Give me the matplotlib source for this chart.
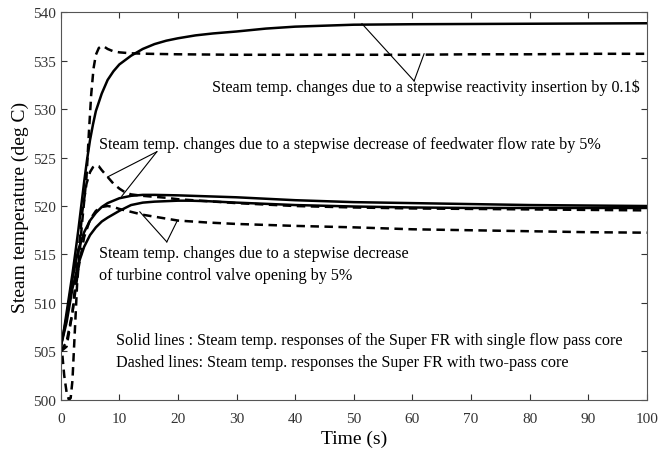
import numpy as np
import matplotlib.pyplot as plt

plt.rcParams['font.family'] = ['Liberation Serif', 'DejaVu Serif']

# Reactivity insertion 0.1$
t_rx_solid = [0, 0.5, 1, 1.5, 2, 2.5, 3, 3.5, 4, 4.5, 5, 5.5, 6, 7, 8, 9, 10, 12, 14, 16, 18, 20, 23, 26, 30, 35, 40,
              50, 60, 80, 100]
y_rx_solid = [505.5, 507, 509, 511, 513, 515.2, 517.5, 520, 522.5, 524.8, 526.8, 528.4, 529.8, 531.6, 533.0, 533.9,
              534.6, 535.5, 536.2, 536.7, 537.05, 537.3, 537.6, 537.8, 538.0, 538.3, 538.5, 538.7, 538.75, 538.8, 538.85]
t_rx_dash = [0, 0.3, 0.6, 1.0, 1.4, 1.7, 2.0, 2.4, 2.8, 3.2, 3.6, 4.0, 4.4, 4.8, 5.2, 5.6, 6.0, 6.5, 7.0, 7.5, 8, 9,
             10, 11, 12, 15, 20, 30, 40, 50, 60, 70, 80, 90, 100]
y_rx_dash = [506, 504.5, 502.5, 500.8, 500, 500.2, 502, 507, 512, 515, 518, 520.5, 523, 527.5, 531.5, 534.2, 535.6,
             536.3, 536.5, 536.4, 536.2, 535.95, 535.85, 535.8, 535.75, 535.7, 535.65, 535.6, 535.6, 535.6, 535.6,
             535.65, 535.65, 535.7, 535.7]

# Feedwater flow rate -5%
t_fw_solid = [0, 1, 2, 3, 4, 5, 6, 7, 8, 10, 12, 14, 16, 20, 25, 30, 40, 50, 60, 70, 80, 90, 100]
y_fw_solid = [505.5, 508.5, 512.5, 515.5, 517.3, 518.5, 519.3, 519.9, 520.3, 520.8, 521.05, 521.15, 521.15, 521.1,
              521.0, 520.9, 520.6, 520.4, 520.3, 520.2, 520.1, 520.05, 520.0]
t_fw_dash = [0, 1, 2, 3, 3.7, 4.4, 5, 5.5, 6, 6.5, 7, 8, 9, 10, 11, 12, 14, 16, 18, 20, 25, 30, 40, 50, 60, 70, 80,
             90, 100]
y_fw_dash = [505, 505.5, 509, 515, 519.5, 522.3, 523.5, 524.0, 524.2, 524.1, 523.7, 523.0, 522.3, 521.8, 521.4, 521.2,
             521.05, 520.95, 520.85, 520.7, 520.5, 520.3, 520.0, 519.85, 519.75, 519.7, 519.65, 519.6, 519.55]

# Turbine control valve opening -5%
t_tb_solid = [0, 1, 2, 3, 4, 5, 6, 7, 8, 10, 12, 14, 16, 18, 20, 22, 25, 30, 40, 50, 60, 70, 80, 90, 100]
y_tb_solid = [505.5, 508, 511.5, 514, 515.8, 517.0, 517.8, 518.4, 518.8, 519.5, 520.1, 520.35, 520.45, 520.5, 520.55,
              520.55, 520.5, 520.35, 520.1, 519.95, 519.85, 519.8, 519.8, 519.8, 519.8]
t_tb_dash = [0, 1, 2, 3, 4, 5, 6, 7, 8, 9, 10, 12, 14, 16, 18, 20, 25, 30, 40, 50, 60, 70, 80, 90, 100]
y_tb_dash = [505, 506, 509, 513.5, 516.8, 518.6, 519.5, 519.9, 520.0, 519.9, 519.7, 519.4, 519.1, 518.9, 518.7, 518.5,
             518.3, 518.15, 517.95, 517.8, 517.6, 517.5, 517.4, 517.3, 517.25]

x_ticks = list(range(0, 101, 10))
y_ticks = list(range(500, 541, 5))

fig = plt.figure(figsize=(6.6, 4.52), dpi=100)
ax = fig.add_axes([0.092, 0.113, 0.888, 0.858])

dash = (3.4, 2.2)
lw = 1.8
ax.plot(t_rx_solid, y_rx_solid, 'k-', lw=lw)
ax.plot(t_rx_dash, y_rx_dash, 'k--', lw=lw, dashes=dash)
ax.plot(t_fw_solid, y_fw_solid, 'k-', lw=lw)
ax.plot(t_fw_dash, y_fw_dash, 'k--', lw=lw, dashes=dash)
ax.plot(t_tb_solid, y_tb_solid, 'k-', lw=lw)
ax.plot(t_tb_dash, y_tb_dash, 'k--', lw=lw, dashes=dash)

ax.set_xlim(0, 100)
ax.set_ylim(500, 540)
ax.set_xticks(x_ticks)
ax.set_yticks(y_ticks)
ax.tick_params(direction='in', top=True, right=True, labelsize=11, colors='#333333', length=4)
ax.tick_params(axis='x', pad=9)
for s in ax.spines.values():
    s.set_color('#555555')
ax.set_xlabel('Time (s)', fontsize=14, labelpad=3)
ax.set_ylabel('Steam temperature (deg C)', fontsize=14, labelpad=3)

fs = 11.6
ls = 1.5
lk = dict(color='k', lw=0.8)
# reactivity annotation
ax.text(25.8, 532.3, 'Steam temp. changes due to a stepwise reactivity insertion by 0.1$', fontsize=fs, va='center')
ax.plot([60.3, 51.4], [532.9, 538.8], **lk)
ax.plot([60.3, 62.0], [532.9, 535.7], **lk)
# feedwater annotation
ax.text(6.5, 526.4, 'Steam temp. changes due to a stepwise decrease of feedwater flow rate by 5%', fontsize=fs, va='center')
ax.plot([16.4, 8.0], [525.6, 523.0], **lk)
ax.plot([16.4, 10.4], [525.6, 521.0], **lk)
# turbine annotation
ax.text(6.5, 514.0, 'Steam temp. changes due to a stepwise decrease\nof turbine control valve opening by 5%',
        fontsize=fs, va='center', linespacing=ls)
ax.plot([18.1, 13.5], [516.3, 519.4], **lk)
ax.plot([18.1, 19.9], [516.3, 518.5], **lk)
# line style note
ax.text(9.5, 505.0, 'Solid lines : Steam temp. responses of the Super FR with single flow pass core\n'
        'Dashed lines: Steam temp. responses the Super FR with two-pass core',
        fontsize=fs, va='center', linespacing=ls)

fig.savefig('out.png', dpi=100)
